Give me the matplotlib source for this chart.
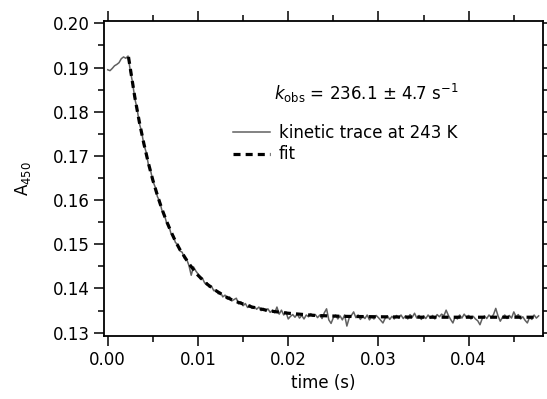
import numpy as np
import matplotlib.pyplot as plt
from matplotlib.ticker import MultipleLocator

dt = 0.00025
A_trace = [
    0.1895, 0.1893, 0.1898, 0.1904, 0.1907, 0.1911, 0.1920, 0.1924, 0.1921, 0.1926,
    0.1893, 0.1866, 0.1830, 0.1807, 0.1774, 0.1755, 0.1726, 0.1709, 0.1681, 0.1667,
    0.1643, 0.1630, 0.1608, 0.1598, 0.1577, 0.1569, 0.1550, 0.1544, 0.1525, 0.1520,
    0.1504, 0.1500, 0.1485, 0.1482, 0.1468, 0.1466, 0.1452, 0.1430, 0.1449, 0.1440,
    0.1433, 0.1422, 0.1423, 0.1412, 0.1413, 0.1403, 0.1405, 0.1395, 0.1397, 0.1388,
    0.1391, 0.1381, 0.1385, 0.1376, 0.1381, 0.1372, 0.1375, 0.1378, 0.1365, 0.1370,
    0.1361, 0.1366, 0.1357, 0.1363, 0.1355, 0.1359, 0.1353, 0.1358, 0.1350, 0.1355,
    0.1349, 0.1354, 0.1346, 0.1351, 0.1345, 0.1358, 0.1342, 0.1351, 0.1340, 0.1347,
    0.1331, 0.1337,
    0.1341, 0.1335, 0.1342, 0.1333, 0.1339, 0.1331, 0.1340, 0.1336, 0.1343, 0.1337,
    0.1341, 0.1334, 0.1340, 0.1332, 0.1345, 0.1354, 0.1329, 0.1321, 0.1334, 0.1340,
    0.1331, 0.1338, 0.1329, 0.1340, 0.1315, 0.1333, 0.1339, 0.1347, 0.1334, 0.1340,
    0.1330, 0.1338, 0.1332, 0.1340, 0.1329, 0.1336, 0.1331, 0.1339, 0.1334, 0.1328,
    0.1322, 0.1333, 0.1338, 0.1330, 0.1337, 0.1331, 0.1339, 0.1333, 0.1340, 0.1332,
    0.1338, 0.1331, 0.1341, 0.1335, 0.1344, 0.1333, 0.1339, 0.1330, 0.1338, 0.1332,
    0.1340, 0.1333, 0.1339, 0.1331, 0.1341, 0.1336, 0.1342, 0.1338, 0.1351, 0.1339,
    0.1330, 0.1322, 0.1336, 0.1331, 0.1340, 0.1333, 0.1342, 0.1335, 0.1339, 0.1331,
    0.1337, 0.1331, 0.1327, 0.1318, 0.1332, 0.1338, 0.1332, 0.1340, 0.1334, 0.1341,
    0.1355, 0.1338, 0.1326, 0.1335, 0.1340, 0.1332, 0.1339, 0.1333, 0.1347, 0.1336,
    0.1341, 0.1331, 0.1336, 0.1328, 0.1322, 0.1335, 0.1330, 0.1340, 0.1333, 0.1338,
]
t_trace = np.arange(len(A_trace)) * dt

# single exponential fit
t_fit = [0.0023, 0.003, 0.0035, 0.004, 0.0045, 0.005, 0.0055, 0.006, 0.0065,
         0.007, 0.0075, 0.008, 0.009, 0.010, 0.011, 0.012, 0.013, 0.014,
         0.016, 0.018, 0.020, 0.023, 0.026, 0.030, 0.035, 0.040, 0.0475]
A_fit = [0.1924, 0.1833, 0.1777, 0.1728, 0.1684, 0.1645, 0.1611, 0.1580, 0.1553,
         0.1529, 0.1507, 0.1488, 0.1456, 0.1430, 0.1410, 0.1395, 0.1382, 0.1372,
         0.1358, 0.1349, 0.1344, 0.1339, 0.1337, 0.1336, 0.1335, 0.1335, 0.1335]

plt.rcParams['font.family'] = 'DejaVu Sans'
fig = plt.figure(figsize=(5.47, 3.99), dpi=100)
ax = fig.add_axes([0.1907, 0.1579, 0.8014, 0.7902])

ax.plot(t_trace, A_trace, color='#606060', linewidth=1.1,
        label='kinetic trace at 243 K')
ax.plot(t_fit, A_fit, color='black', linewidth=2.3, linestyle=(0, (2.2, 1.6)),
        label='fit')

ax.set_xlim(-0.00038, 0.0482)
ax.set_ylim(0.12925, 0.2006)
ax.xaxis.set_major_locator(MultipleLocator(0.01))
ax.xaxis.set_minor_locator(MultipleLocator(0.005))
ax.yaxis.set_major_locator(MultipleLocator(0.01))
ax.yaxis.set_minor_locator(MultipleLocator(0.005))
ax.xaxis.set_major_formatter(plt.FormatStrFormatter('%.2f'))
ax.yaxis.set_major_formatter(plt.FormatStrFormatter('%.2f'))
ax.tick_params(which='both', direction='out', top=True, right=True, width=1.1,
               labelsize=12)
ax.tick_params(which='major', length=7)
ax.tick_params(which='minor', length=4.5)
for s in ax.spines.values():
    s.set_linewidth(1.3)

ax.set_xlabel('time (s)', fontsize=12)
ax.set_ylabel('A$_{450}$', fontsize=12, labelpad=14)

ax.text(0.3865, 0.77, r'$k_{\mathrm{obs}}$ = 236.1 ± 4.7 s$^{-1}$',
        transform=ax.transAxes, fontsize=12, va='center', ha='left')
ax.legend(loc='upper left', bbox_to_anchor=(0.2936, 0.672), frameon=False,
          fontsize=12, handlelength=2.2, handletextpad=0.55, labelspacing=0.2,
          borderpad=0, borderaxespad=0)

fig.savefig('out.png', dpi=100)
